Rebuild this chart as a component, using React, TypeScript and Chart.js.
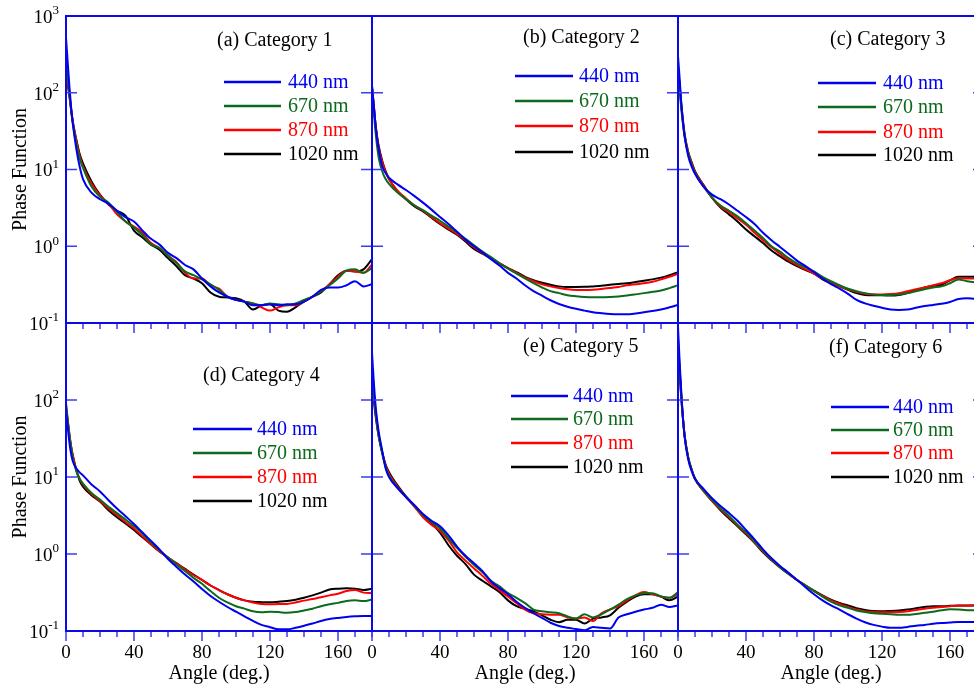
import React, { useEffect, useRef } from 'react';
import { Chart, registerables } from 'chart.js';

Chart.register(...registerables);

// ---------------- data ----------------
const angles = [0, 1, 2, 3, 4, 6, 8, 10, 15, 20, 25, 30, 35, 40, 45, 50, 55, 60, 65, 70, 75, 80, 85, 90, 95, 100, 105, 110, 115, 120, 125, 130, 135, 140, 145, 150, 155, 160, 165, 170, 175, 180];
const wavelengths = ['440 nm', '670 nm', '870 nm', '1020 nm'];
const panelTitles = ['(a) Category 1', '(b) Category 2', '(c) Category 3', '(d) Category 4', '(e) Category 5', '(f) Category 6'];
const yExponents = [-1, 0, 1, 2, 3];
const xMinorStep = 10;
const xMajorStep = 40;

const cat1_440 = [520, 250, 120, 65, 40, 19, 11, 7.5, 5.0, 4.1, 3.6, 2.9, 2.4, 2.1, 1.6, 1.25, 1.05, 0.82, 0.7, 0.57, 0.5, 0.38, 0.3, 0.25, 0.22, 0.2, 0.19, 0.17, 0.17, 0.175, 0.17, 0.175, 0.175, 0.19, 0.22, 0.27, 0.29, 0.29, 0.31, 0.35, 0.3, 0.32];
const cat1_670 = [300, 170, 100, 60, 40, 22, 14, 10.5, 6.0, 4.4, 3.7, 2.8, 2.1, 1.75, 1.4, 1.05, 0.95, 0.75, 0.6, 0.47, 0.42, 0.37, 0.32, 0.27, 0.22, 0.2, 0.19, 0.18, 0.17, 0.18, 0.175, 0.17, 0.18, 0.2, 0.22, 0.26, 0.31, 0.38, 0.48, 0.5, 0.45, 0.52];
const cat1_870 = [200, 140, 95, 62, 42, 24, 15, 11, 6.5, 4.6, 3.6, 2.6, 2.1, 1.8, 1.5, 1.1, 0.95, 0.75, 0.62, 0.45, 0.38, 0.38, 0.31, 0.28, 0.22, 0.2, 0.19, 0.18, 0.16, 0.145, 0.16, 0.17, 0.17, 0.19, 0.22, 0.26, 0.32, 0.4, 0.48, 0.47, 0.45, 0.58];
const cat1_1020 = [170, 130, 90, 60, 42, 25, 16, 12, 7.0, 4.7, 3.5, 2.9, 2.5, 1.6, 1.3, 1.05, 0.9, 0.7, 0.55, 0.42, 0.38, 0.33, 0.25, 0.22, 0.215, 0.21, 0.19, 0.15, 0.17, 0.175, 0.145, 0.14, 0.16, 0.19, 0.22, 0.25, 0.32, 0.42, 0.48, 0.47, 0.5, 0.68];

const cat2_440 = [120, 70, 40, 25, 18, 11, 9, 7.8, 6.4, 5.4, 4.5, 3.7, 3.0, 2.4, 1.95, 1.55, 1.22, 1.0, 0.83, 0.68, 0.56, 0.45, 0.38, 0.31, 0.26, 0.227, 0.198, 0.177, 0.163, 0.153, 0.145, 0.138, 0.134, 0.131, 0.13, 0.13, 0.133, 0.138, 0.143, 0.15, 0.16, 0.172];
const cat2_670 = [115, 60, 32, 20, 14, 9.5, 7.5, 6.5, 5.0, 4.1, 3.4, 2.95, 2.5, 2.15, 1.8, 1.52, 1.25, 1.03, 0.85, 0.72, 0.6, 0.51, 0.44, 0.38, 0.33, 0.29, 0.26, 0.245, 0.23, 0.223, 0.218, 0.216, 0.216, 0.218, 0.222, 0.228, 0.236, 0.245, 0.255, 0.265, 0.285, 0.31];
const cat2_870 = [115, 70, 40, 26, 19, 12.5, 9.3, 7.5, 5.3, 4.2, 3.4, 2.9, 2.4, 2.0, 1.7, 1.45, 1.2, 0.97, 0.82, 0.7, 0.6, 0.52, 0.45, 0.39, 0.35, 0.32, 0.3, 0.285, 0.275, 0.27, 0.27, 0.272, 0.278, 0.286, 0.295, 0.31, 0.32, 0.33, 0.345, 0.37, 0.4, 0.44];
const cat2_1020 = [125, 70, 40, 27, 20, 13, 9.5, 7.5, 5.2, 4.1, 3.3, 2.85, 2.35, 1.95, 1.65, 1.42, 1.15, 0.92, 0.8, 0.69, 0.6, 0.52, 0.46, 0.4, 0.36, 0.335, 0.315, 0.3, 0.295, 0.295, 0.296, 0.3, 0.305, 0.315, 0.322, 0.33, 0.342, 0.356, 0.37, 0.39, 0.42, 0.46];

const cat3_440 = [300, 150, 70, 40, 26, 15, 11, 8.8, 6.0, 4.7, 4.1, 3.5, 2.9, 2.4, 1.95, 1.5, 1.2, 0.98, 0.8, 0.65, 0.55, 0.46, 0.38, 0.32, 0.28, 0.24, 0.2, 0.18, 0.168, 0.158, 0.15, 0.148, 0.15, 0.158, 0.166, 0.172, 0.178, 0.188, 0.205, 0.21, 0.207, 0.207];
const cat3_670 = [200, 110, 60, 38, 26, 16, 11.5, 9, 6.0, 4.3, 3.4, 2.9, 2.45, 2.0, 1.6, 1.28, 1.0, 0.85, 0.7, 0.6, 0.53, 0.47, 0.4, 0.35, 0.31, 0.28, 0.26, 0.245, 0.236, 0.232, 0.232, 0.235, 0.245, 0.26, 0.275, 0.29, 0.3, 0.33, 0.37, 0.35, 0.34, 0.34];
const cat3_870 = [220, 120, 65, 40, 27, 16.5, 12, 9.3, 6.2, 4.3, 3.3, 2.75, 2.3, 1.9, 1.5, 1.2, 0.97, 0.8, 0.66, 0.57, 0.5, 0.44, 0.38, 0.34, 0.3, 0.275, 0.255, 0.24, 0.235, 0.235, 0.238, 0.245, 0.26, 0.275, 0.29, 0.31, 0.33, 0.36, 0.385, 0.38, 0.38, 0.38];
const cat3_1020 = [205, 120, 68, 42, 28, 17, 12.5, 9.5, 6.3, 4.3, 3.2, 2.6, 2.1, 1.65, 1.35, 1.1, 0.88, 0.74, 0.63, 0.55, 0.49, 0.44, 0.37, 0.33, 0.3, 0.27, 0.245, 0.232, 0.23, 0.23, 0.228, 0.232, 0.245, 0.265, 0.29, 0.305, 0.315, 0.36, 0.4, 0.4, 0.4, 0.41];

const cat4_440 = [75, 45, 28, 20, 16, 13, 11.5, 10.5, 8.0, 6.5, 5.0, 3.9, 3.1, 2.45, 1.9, 1.48, 1.15, 0.86, 0.68, 0.54, 0.44, 0.35, 0.285, 0.24, 0.205, 0.178, 0.155, 0.135, 0.12, 0.112, 0.105, 0.105, 0.11, 0.117, 0.125, 0.135, 0.143, 0.148, 0.152, 0.155, 0.157, 0.157];
const cat4_670 = [92, 55, 35, 24, 18, 12, 9.5, 8.2, 6.2, 5.1, 4.1, 3.4, 2.8, 2.3, 1.85, 1.42, 1.12, 0.9, 0.73, 0.6, 0.49, 0.41, 0.33, 0.27, 0.235, 0.21, 0.195, 0.18, 0.175, 0.178, 0.176, 0.172, 0.176, 0.185, 0.195, 0.21, 0.222, 0.232, 0.245, 0.25, 0.245, 0.256];
const cat4_870 = [87, 55, 36, 25, 19, 12.5, 9.5, 8.0, 6.0, 4.9, 3.9, 3.2, 2.6, 2.15, 1.7, 1.35, 1.08, 0.9, 0.75, 0.63, 0.53, 0.46, 0.39, 0.34, 0.3, 0.27, 0.25, 0.235, 0.225, 0.222, 0.224, 0.225, 0.235, 0.248, 0.26, 0.275, 0.29, 0.305, 0.33, 0.34, 0.315, 0.31];
const cat4_1020 = [79, 52, 35, 25, 19, 12.5, 9.0, 7.5, 5.8, 4.8, 3.7, 3.0, 2.5, 2.05, 1.65, 1.33, 1.08, 0.9, 0.76, 0.64, 0.54, 0.46, 0.39, 0.34, 0.3, 0.27, 0.25, 0.24, 0.237, 0.236, 0.24, 0.245, 0.255, 0.27, 0.29, 0.315, 0.345, 0.355, 0.36, 0.355, 0.34, 0.355];

const cat5_440 = [410, 180, 90, 55, 38, 22, 13, 10, 7.2, 5.5, 4.3, 3.3, 2.7, 2.3, 1.75, 1.25, 0.95, 0.76, 0.6, 0.44, 0.36, 0.3, 0.24, 0.2, 0.17, 0.148, 0.128, 0.116, 0.11, 0.106, 0.102, 0.113, 0.11, 0.108, 0.15, 0.165, 0.178, 0.19, 0.2, 0.22, 0.205, 0.215];
const cat5_670 = [265, 130, 75, 48, 34, 20, 13.5, 10.5, 7.3, 5.5, 4.2, 3.2, 2.6, 2.15, 1.6, 1.2, 0.92, 0.72, 0.58, 0.45, 0.38, 0.31, 0.27, 0.23, 0.19, 0.18, 0.175, 0.17, 0.155, 0.145, 0.165, 0.15, 0.165, 0.19, 0.22, 0.26, 0.29, 0.31, 0.31, 0.28, 0.27, 0.32];
const cat5_870 = [195, 120, 72, 48, 34, 21, 14, 11, 7.5, 5.5, 4.1, 3.0, 2.4, 2.0, 1.5, 1.05, 0.82, 0.65, 0.52, 0.41, 0.34, 0.28, 0.23, 0.19, 0.17, 0.165, 0.163, 0.163, 0.15, 0.145, 0.15, 0.135, 0.17, 0.19, 0.21, 0.25, 0.29, 0.32, 0.3, 0.28, 0.27, 0.3];
const cat5_1020 = [150, 100, 65, 45, 33, 21, 14.5, 11.5, 7.8, 5.6, 4.2, 3.2, 2.5, 1.9, 1.3, 0.95, 0.74, 0.54, 0.45, 0.38, 0.32, 0.25, 0.21, 0.195, 0.18, 0.16, 0.14, 0.13, 0.14, 0.14, 0.125, 0.145, 0.15, 0.16, 0.2, 0.24, 0.28, 0.3, 0.3, 0.28, 0.25, 0.28];

const cat6_440 = [900, 300, 120, 55, 32, 17, 12, 9.5, 7.0, 5.3, 4.2, 3.4, 2.7, 2.05, 1.55, 1.15, 0.88, 0.7, 0.57, 0.46, 0.37, 0.3, 0.25, 0.215, 0.19, 0.165, 0.145, 0.13, 0.12, 0.114, 0.11, 0.11, 0.113, 0.117, 0.12, 0.124, 0.127, 0.129, 0.131, 0.131, 0.131, 0.131];
const cat6_670 = [630, 250, 110, 55, 33, 18, 12.5, 9.5, 6.7, 5.0, 3.9, 3.1, 2.4, 1.9, 1.45, 1.1, 0.86, 0.68, 0.56, 0.46, 0.39, 0.33, 0.28, 0.24, 0.215, 0.2, 0.185, 0.176, 0.17, 0.167, 0.165, 0.162, 0.162, 0.166, 0.172, 0.178, 0.186, 0.192, 0.19, 0.186, 0.186, 0.186];
const cat6_870 = [520, 230, 105, 55, 33, 18, 12.5, 9.5, 6.6, 4.9, 3.8, 3.0, 2.35, 1.85, 1.42, 1.08, 0.85, 0.68, 0.56, 0.46, 0.39, 0.33, 0.285, 0.25, 0.225, 0.205, 0.19, 0.18, 0.176, 0.175, 0.175, 0.176, 0.18, 0.188, 0.195, 0.2, 0.205, 0.21, 0.213, 0.213, 0.215, 0.215];
const cat6_1020 = [480, 220, 100, 55, 33, 18, 12.5, 9.5, 6.6, 4.9, 3.7, 2.9, 2.3, 1.8, 1.4, 1.05, 0.83, 0.67, 0.55, 0.46, 0.39, 0.335, 0.29, 0.255, 0.232, 0.215, 0.198, 0.188, 0.182, 0.18, 0.182, 0.185, 0.19, 0.197, 0.205, 0.21, 0.21, 0.212, 0.215, 0.215, 0.215, 0.215];

const panelSeries = [
  [cat1_440, cat1_670, cat1_870, cat1_1020],
  [cat2_440, cat2_670, cat2_870, cat2_1020],
  [cat3_440, cat3_670, cat3_870, cat3_1020],
  [cat4_440, cat4_670, cat4_870, cat4_1020],
  [cat5_440, cat5_670, cat5_870, cat5_1020],
  [cat6_440, cat6_670, cat6_870, cat6_1020],
];

// ---------------- layout & style ----------------
const CANVAS_W = 990;
const CANVAS_H = 689;
const PLOT_W = 306;
const COL_LEFT = [66, 372, 678];
const ROW_TOP = [16, 323];
const ROW_BOTTOM = [323, 631];
const X_AXIS_H = 55;
const Y_AXIS_W = 66;
const FONT = '"Liberation Serif", "Times New Roman", serif';
const AXIS_COLOR = '#0a0ae6';
const TICK_COLOR = '#3c3cf0';
const SERIES_COLORS = ['#0000f0', '#0d6a1c', '#ff0000', '#000000'];

// offsets relative to chart area (left, top)
const LEGEND_LAYOUT = [
  { tx: 151, ty: 25, lx: 158, lw: 57, txt: 222, rows: [66, 90, 114, 138] },
  { tx: 151, ty: 22, lx: 143, lw: 58, txt: 207, rows: [60, 85, 110, 136] },
  { tx: 152, ty: 24, lx: 140, lw: 58, txt: 205, rows: [67, 91, 116, 139] },
  { tx: 137, ty: 53, lx: 127, lw: 59, txt: 191, rows: [106, 130, 154, 178] },
  { tx: 151, ty: 24, lx: 139, lw: 57, txt: 201, rows: [73, 96, 120, 144] },
  { tx: 151, ty: 25, lx: 153, lw: 58, txt: 215, rows: [84, 107, 130, 154] },
];

function makePanelPlugin(index: number) {
  const row = Math.floor(index / 3);
  const col = index % 3;
  const lay = LEGEND_LAYOUT[index];
  return {
    id: 'panelDecor' + index,
    afterDraw(chart: any) {
      const { ctx, chartArea: ca, scales } = chart;
      const xs = scales.x;
      const ys = scales.y;
      ctx.save();
      // y ticks (inward on both sides)
      ctx.strokeStyle = TICK_COLOR;
      ctx.lineWidth = 1.5;
      ctx.beginPath();
      yExponents.forEach((e) => {
        const y = ys.getPixelForValue(Math.pow(10, e));
        ctx.moveTo(ca.left, y);
        ctx.lineTo(ca.left + 11, y);
        ctx.moveTo(ca.right - 11, y);
        ctx.lineTo(ca.right, y);
      });
      // x ticks (outward at bottom)
      for (let a = 0; a <= 180; a += xMinorStep) {
        const x = xs.getPixelForValue(a);
        const len = a % xMajorStep === 0 ? 10 : 6;
        ctx.moveTo(x, ca.bottom);
        ctx.lineTo(x, ca.bottom + len);
      }
      ctx.stroke();
      // frame
      ctx.strokeStyle = AXIS_COLOR;
      ctx.lineWidth = 2;
      ctx.strokeRect(ca.left, ca.top, ca.right - ca.left, ca.bottom - ca.top);

      // y tick labels with superscript exponents
      if (col === 0) {
        ctx.fillStyle = '#000';
        ctx.textBaseline = 'middle';
        ctx.textAlign = 'left';
        yExponents.forEach((e) => {
          if (row === 1 && e === 3) return;
          const y = ys.getPixelForValue(Math.pow(10, e));
          const expStr = String(e);
          ctx.font = '13px ' + FONT;
          const ew = ctx.measureText(expStr).width;
          ctx.font = '19px ' + FONT;
          const bw = ctx.measureText('10').width;
          const right = ca.left - 7;
          ctx.fillText('10', right - ew - bw, y + 2);
          ctx.font = '13px ' + FONT;
          ctx.fillText(expStr, right - ew, y - 5);
        });
      }

      // panel title
      ctx.font = '20px ' + FONT;
      ctx.textBaseline = 'middle';
      ctx.textAlign = 'left';
      ctx.fillStyle = '#000';
      ctx.fillText(panelTitles[index], ca.left + lay.tx, ca.top + lay.ty);

      // legend
      chart.data.datasets.forEach((ds: any, i: number) => {
        const y = ca.top + lay.rows[i];
        ctx.strokeStyle = ds.borderColor;
        ctx.lineWidth = 2.5;
        ctx.beginPath();
        ctx.moveTo(ca.left + lay.lx, y);
        ctx.lineTo(ca.left + lay.lx + lay.lw, y);
        ctx.stroke();
        ctx.fillStyle = ds.borderColor;
        ctx.fillText(ds.label, ca.left + lay.txt, y + 1);
      });
      ctx.restore();
    },
  };
}

function Panel({ index }: { index: number }) {
  const ref = useRef<HTMLCanvasElement | null>(null);
  useEffect(() => {
    const row = Math.floor(index / 3);
    const col = index % 3;
    const left = COL_LEFT[col];
    const yW = col === 0 ? Y_AXIS_W : 0;
    const xH = row === 1 ? X_AXIS_H : 0;
    const datasets = panelSeries[index].map((vals, i) => ({
      label: wavelengths[i],
      data: angles.map((a, k) => ({ x: a, y: vals[k] })),
      borderColor: SERIES_COLORS[i],
      backgroundColor: SERIES_COLORS[i],
      borderWidth: 2,
      pointRadius: 0,
      fill: false,
      cubicInterpolationMode: 'monotone' as const,
    }));
    const chart = new Chart(ref.current as HTMLCanvasElement, {
      type: 'line',
      data: { datasets },
      options: {
        animation: false,
        responsive: false,
        devicePixelRatio: 1,
        layout: {
          padding: {
            left: left - yW,
            right: CANVAS_W - (left + PLOT_W),
            top: ROW_TOP[row],
            bottom: CANVAS_H - ROW_BOTTOM[row] - xH,
          },
        },
        plugins: {
          legend: { display: false },
          tooltip: { enabled: false },
          title: { display: false },
        },
        scales: {
          x: {
            type: 'linear',
            min: 0,
            max: 180,
            grid: { display: false, drawTicks: false },
            border: { display: false },
            ticks: {
              display: row === 1,
              stepSize: xMajorStep,
              includeBounds: false,
              autoSkip: false,
              maxRotation: 0,
              padding: 11,
              color: '#000',
              font: { family: FONT, size: 19 },
            },
            title: {
              display: row === 1,
              text: 'Angle (deg.)',
              color: '#000',
              font: { family: FONT, size: 20 },
              padding: { top: 0, bottom: 0 },
            },
            afterFit: (s: any) => {
              s.height = xH;
            },
          },
          y: {
            type: 'logarithmic',
            min: 0.1,
            max: 1000,
            grid: { display: false, drawTicks: false },
            border: { display: false },
            ticks: { display: false },
            title: {
              display: col === 0,
              text: 'Phase Function',
              color: '#000',
              font: { family: FONT, size: 20 },
              padding: { top: 9, bottom: 0 },
            },
            afterFit: (s: any) => {
              s.width = yW;
            },
          },
        },
      } as any,
      plugins: [makePanelPlugin(index)],
    });
    return () => chart.destroy();
  }, [index]);
  return (
    <canvas
      ref={ref}
      width={CANVAS_W}
      height={CANVAS_H}
      style={{ position: 'absolute', left: 0, top: 0, width: CANVAS_W, height: CANVAS_H }}
    />
  );
}

export default function App() {
  return (
    <div
      style={{
        position: 'fixed',
        left: 0,
        top: 0,
        width: 974,
        height: 689,
        overflow: 'hidden',
        background: '#fff',
      }}
    >
      {[0, 1, 2, 3, 4, 5].map((i) => (
        <Panel key={i} index={i} />
      ))}
    </div>
  );
}
